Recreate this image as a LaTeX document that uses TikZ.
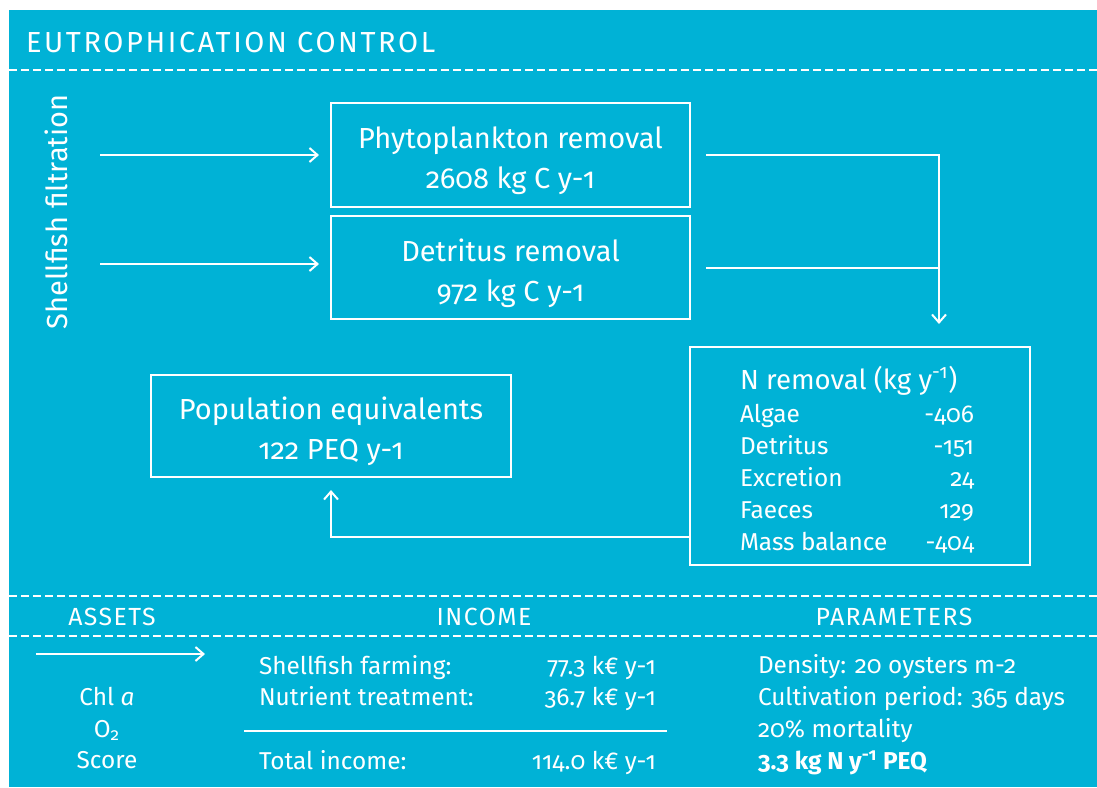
\documentclass[tikz,border=0pt]{standalone}
\usepackage{fontspec}
\setmainfont{Fira Sans}[Numbers=OldStyle]
\usetikzlibrary{arrows.meta, positioning}
\definecolor{seablue}{RGB}{0,178,214}
\newcommand{\ecstrut}{\rule{0pt}{17pt}}

\begin{document}
\begin{tikzpicture}[x=0.5pt, y=-0.5pt, line width=1pt, white,
	>={Straight Barb[length=4pt,width=7pt]}]
\tikzstyle{ec_box}=[draw, rectangle, align=center, minimum width=179.5pt,
	font=\fontsize{14.5}{20}\selectfont]
\tikzstyle{ec_text}=[inner sep=0pt, anchor=base west, font=\fontsize{12.2}{16}\selectfont]
\tikzstyle{ec_head}=[inner sep=0pt, anchor=base, font=\fontsize{12.2}{16}\selectfont]
\tikzstyle{ec_caps}=[ec_head, font=\fontsize{12.4}{16}\selectfont\addfontfeatures{LetterSpace=6}]
\tikzstyle{ec_dash}=[dash pattern=on 4pt off 2pt]

\fill[seablue] (9,10) rectangle (1097,787);
\useasboundingbox (0,0) rectangle (1097,787);

\node[inner sep=0pt, anchor=base west, font=\fontsize{14.5}{17}\selectfont\addfontfeatures{LetterSpace=9}] (title) at (25,52) {EUTROPHICATION CONTROL};
\draw[ec_dash] (9,70) -- (1097,70);

\node[rotate=90, inner sep=0pt, anchor=base, font=\fontsize{14.5}{17}\selectfont] (filt) at (67,212) {Shellfish filtration};

\node[ec_box, minimum height=52pt] (phyto) at (510.5,155) {\ecstrut Phytoplankton removal\\2608 kg C y-1};
\node[ec_box, minimum height=51.5pt] (detr) at (510.5,267.5) {\ecstrut Detritus removal\\972 kg C y-1};
\node[ec_box, minimum width=180pt, minimum height=51pt] (peq) at (331,426) {\ecstrut Population equivalents\\122 PEQ y-1};
\node[draw, rectangle, align=left, minimum width=170pt, minimum height=109pt,
	font=\fontsize{12.2}{16}\selectfont] (nrem) at (860,456) {%
	{\fontsize{13.8}{16}\selectfont\rule{0pt}{15pt}N removal (kg y\textsuperscript{-1})}\\[0.5pt]
	\makebox[120pt]{Algae\hfill -406\hspace{3pt}}\\
	\makebox[120pt]{Detritus\hfill -151\hspace{3pt}}\\
	\makebox[120pt]{Excretion\hfill 24\hspace{3pt}}\\
	\makebox[120pt]{Faeces\hfill 129\hspace{3pt}}\\
	\makebox[120pt]{Mass balance\hfill -404\hspace{3pt}}};

% filtration fluxes
\coordinate (in1) at (100,155);
\coordinate (in2) at (100,264);
\coordinate (join) at (939,0);
\coordinate (ret) at (0,537);
\draw[->] (in1) -- ([xshift=-5.5pt]in1 -| phyto.west);
\draw[->] (in2) -- ([xshift=-5.5pt]in2 -| detr.west);
\draw[->] ([xshift=7.5pt]phyto.east) -| ([yshift=11pt]join |- nrem.north);
\draw ([xshift=7.5pt]detr.east) -- (detr.east -| join);
\draw[->] (ret -| nrem.west) -| ([yshift=-6pt]peq.south);

% bottom table
\draw[ec_dash] (9,596) -- (1097,596);
\draw[ec_dash] (9,636) -- (1097,636);
\node[ec_caps] (assets) at (112,625) {ASSETS};
\node[ec_caps] (income) at (484,625) {INCOME};
\node[ec_caps] (params) at (894,625) {PARAMETERS};

\coordinate (a0) at (36,654);
\coordinate (a1) at (205,654);
\draw[->] (a0) -- (a1);
\node[ec_head] (chl) at (107,705) {Chl \textit{a}};
\node[ec_head] (oxy) at (107,737) {O\textsubscript{2}};
\node[ec_head] (score) at (107,768) {Score};

\node[ec_text] (farm) at (258,674) {Shellfish farming:};
\node[ec_text, anchor=base east] (farmv) at (657,674) {77.3 k€ y-1};
\node[ec_text] (nutr) at (258,705) {Nutrient treatment:};
\node[ec_text, anchor=base east] (nutrv) at (657,705) {36.7 k€ y-1};
\draw (244,731) -- (667,731);
\node[ec_text] (total) at (258,769) {Total income:};
\node[ec_text, anchor=base east] (totalv) at (657,769) {114.0 k€ y-1};

\node[ec_text] (dens) at (757,673) {Density: 20 oysters m-2};
\node[ec_text] (cult) at (757,705) {Cultivation period: 365 days};
\node[ec_text] (mort) at (757,737) {20\% mortality};
\node[ec_text, font=\fontsize{12.2}{16}\selectfont\bfseries] (peqn) at (757,769) {3.3 kg N y\textsuperscript{-1} PEQ};

\end{tikzpicture}
\end{document}
